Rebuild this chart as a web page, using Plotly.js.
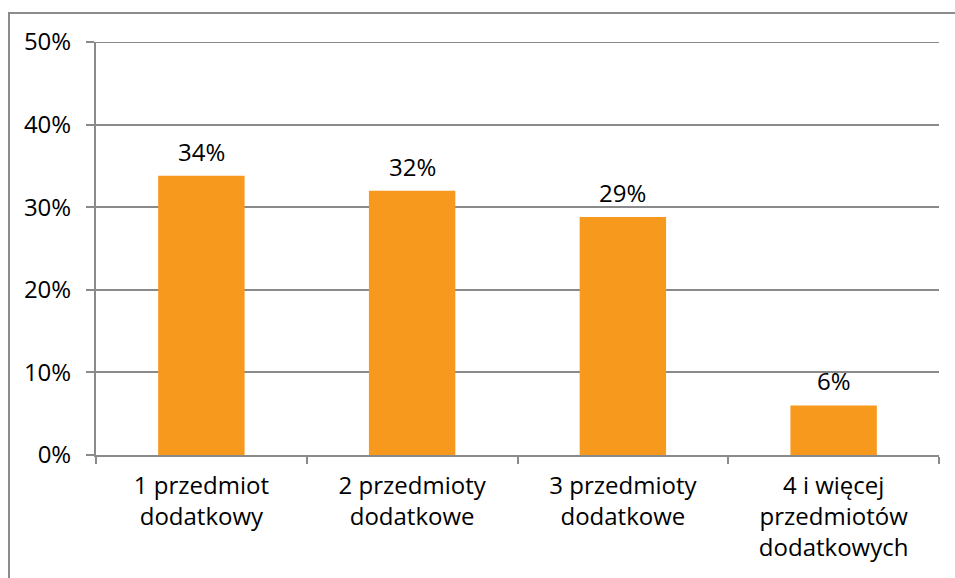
<!DOCTYPE html>
<html>
<head>
<meta charset="utf-8">
<script src="https://cdn.plot.ly/plotly-3.0.1.min.js"></script>
<style>
  html, body { margin: 0; padding: 0; background: #fff; }
  #wrap { position: relative; width: 955px; height: 578px; overflow: hidden; }
  #chart { position: absolute; left: 0; top: 0; width: 955px; height: 578px; }
  #frame { position: absolute; left: 8px; top: 12px; width: 960px; height: 600px;
           border-left: 2px solid #8c8c8c; border-top: 2px solid #8c8c8c; pointer-events: none; }
</style>
</head>
<body>
<div id="wrap">
  <div id="chart"></div>
  <div id="frame"></div>
</div>
<script>
const categories = ["1 przedmiot<br>dodatkowy", "2 przedmioty<br>dodatkowe", "3 przedmioty<br>dodatkowe", "4 i więcej<br>przedmiotów<br>dodatkowych"];
const values = [33.8, 32.0, 28.8, 6.0];
const valueLabels = ["34%", "32%", "29%", "6%"];
const yTickVals = [0, 10, 20, 30, 40, 50];
const yTickText = ["0%", "10%", "20%", "30%", "40%", "50%"];

const FONT = "Open Sans, Noto Sans, sans-serif";
const GRID = "#8a8a8a";
const FS = 24;
const yMax = yTickVals[yTickVals.length - 1];

const trace = {
  type: "bar",
  x: categories,
  y: values,
  marker: { color: "#F7991C" },
  hoverinfo: "none"
};

const annotations = categories.map((c, i) => ({
  x: c, y: values[i], xref: "x", yref: "y",
  text: valueLabels[i], showarrow: false,
  yanchor: "bottom", yshift: 6,
  font: { family: FONT, size: FS, color: "#000" }
}));

const layout = {
  width: 955, height: 578,
  margin: { l: 96, r: 16, t: 42, b: 123 },
  paper_bgcolor: "#fff", plot_bgcolor: "#fff",
  bargap: 0.59,
  showlegend: false,
  font: { family: FONT, size: FS, color: "#000" },
  xaxis: {
    type: "category",
    showline: true, linecolor: GRID, linewidth: 2,
    ticks: "outside", tickson: "boundaries", ticklen: 7, tickcolor: GRID, tickwidth: 2,
    showgrid: false, zeroline: false,
    ticklabelstandoff: 8,
    tickfont: { family: FONT, size: FS, color: "#000" },
    fixedrange: true
  },
  yaxis: {
    range: [0, yMax],
    tickvals: yTickVals, ticktext: yTickText,
    showline: true, linecolor: GRID, linewidth: 2,
    ticks: "outside", ticklen: 8, tickcolor: GRID, tickwidth: 2,
    showgrid: true, gridcolor: GRID, gridwidth: 2,
    zeroline: false,
    ticklabelstandoff: 10,
    tickfont: { family: FONT, size: FS, color: "#000" },
    fixedrange: true
  },
  shapes: [{
    type: "line", xref: "paper", yref: "y",
    x0: 0, x1: 1, y0: yMax, y1: yMax,
    line: { color: GRID, width: 2 }, layer: "below"
  }],
  annotations: annotations
};

Plotly.newPlot("chart", [trace], layout, { displayModeBar: false, staticPlot: true });
</script>
</body>
</html>
